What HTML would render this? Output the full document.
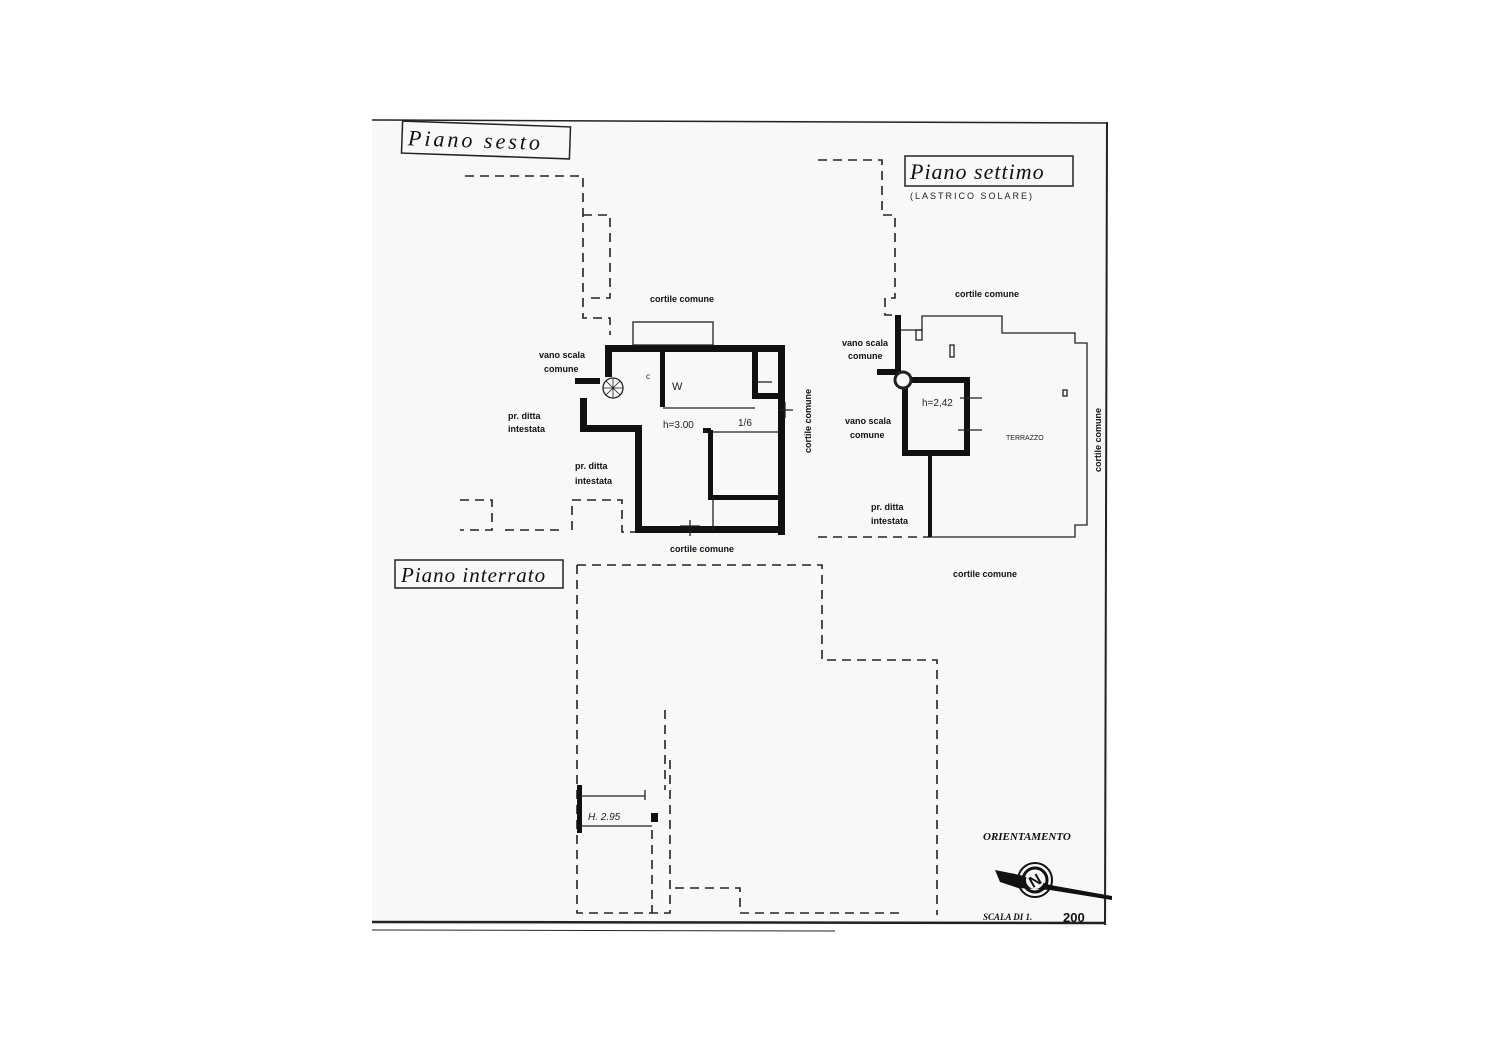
<!DOCTYPE html>
<html><head><meta charset="utf-8"><style>
html,body{margin:0;padding:0;background:#fff;}
svg{display:block}
text{font-family:"Liberation Serif",serif;}
.lbl{font-family:"Liberation Sans",sans-serif;font-weight:bold;font-size:9px;fill:#111}
.s{font-family:"Liberation Sans",sans-serif;}
</style></head><body>
<svg width="1485" height="1050" viewBox="0 0 1485 1050" xmlns="http://www.w3.org/2000/svg">
<rect x="372" y="120" width="736" height="805" fill="#f8f8f7"/>
<g stroke="#222" fill="none">
<line x1="372" y1="120" x2="1108" y2="123" stroke-width="1.5"/>
<line x1="1107" y1="122" x2="1105" y2="925" stroke-width="2"/>
<line x1="372" y1="922" x2="1105" y2="923" stroke-width="2.5"/>
<line x1="372" y1="930" x2="835" y2="931" stroke-width="1"/>
</g>
<g transform="rotate(2 486 140)">
<rect x="402" y="124" width="168" height="32" fill="none" stroke="#222" stroke-width="1.5"/>
<text x="408" y="148" font-size="22" font-style="italic" letter-spacing="3" fill="#111">Piano sesto</text>
</g>
<rect x="905" y="156" width="168" height="30" fill="none" stroke="#222" stroke-width="1.5"/>
<text x="910" y="179" font-size="22" font-style="italic" letter-spacing="1" fill="#111">Piano settimo</text>
<text x="910" y="199" font-size="9" class="s" letter-spacing="2" fill="#222">(LASTRICO  SOLARE)</text>
<rect x="395" y="560" width="168" height="28" fill="none" stroke="#222" stroke-width="1.5"/>
<text x="401" y="582" font-size="21" font-style="italic" letter-spacing="1" fill="#111">Piano interrato</text>

<g stroke="#222" stroke-width="1.6" fill="none" stroke-dasharray="9,6">
<path d="M465 176 H583 V318 H610 V335"/>
<path d="M583 215 H610 V298 H590"/>
<path d="M460 500 H492 V530 H460"/>
<path d="M505 530 H560"/>
<path d="M572 530 V500 H622 V532 H637"/>
<path d="M818 160 H882 V215 H895 V298 H885 V315 H898"/>
<path d="M818 537 H930"/>
<path d="M577 565 H822 V660 H937 V915"/>
<path d="M577 565 V913 H670 V760"/>
<path d="M652 830 V913"/>
<path d="M665 710 V790"/>
<path d="M675 888 H740 V913 H900"/>
</g>

<g fill="#111">
<rect x="605" y="345" width="180" height="7"/>
<rect x="778" y="345" width="7" height="190"/>
<rect x="635" y="526" width="150" height="7"/>
<rect x="635" y="425" width="7" height="108"/>
<rect x="580" y="425" width="60" height="7"/>
<rect x="580" y="398" width="7" height="34"/>
<rect x="575" y="378" width="25" height="6"/>
<rect x="605" y="345" width="7" height="32"/>
<rect x="660" y="345" width="5" height="62"/>
<rect x="752" y="345" width="6" height="50"/>
<rect x="752" y="393" width="33" height="6"/>
<rect x="708" y="430" width="5" height="70"/>
<rect x="708" y="495" width="70" height="5"/>
<rect x="703" y="428" width="8" height="5"/>
</g>
<g stroke="#222" fill="none" stroke-width="1.3">
<rect x="633" y="322" width="80" height="23"/>
<line x1="663" y1="408" x2="755" y2="408"/>
<line x1="713" y1="432" x2="778" y2="432"/>
<line x1="713" y1="497" x2="713" y2="530"/>
<circle cx="613" cy="388" r="10"/>
<path d="M603 388 H623 M613 378 V398 M606 381 L620 395 M620 381 L606 395" stroke-width="0.8"/>
<line x1="690" y1="520" x2="690" y2="536"/><line x1="680" y1="526" x2="700" y2="526"/>
<line x1="780" y1="410" x2="793" y2="410"/><line x1="785" y1="402" x2="785" y2="418"/>
<line x1="756" y1="382" x2="772" y2="382"/>
</g>
<text x="663" y="428" font-size="10" class="s" fill="#222">h=3.00</text>
<text x="738" y="426" font-size="10" class="s" fill="#222">1/6</text>
<text x="672" y="390" font-size="11" class="s" fill="#222">W</text>
<text x="646" y="379" font-size="8" class="s" fill="#222">c</text>

<g fill="#111">
<rect x="895" y="315" width="6" height="60"/>
<rect x="877" y="369" width="24" height="6"/>
<rect x="902" y="377" width="6" height="78"/>
<rect x="902" y="450" width="68" height="6"/>
<rect x="964" y="377" width="6" height="78"/>
<rect x="905" y="377" width="65" height="6"/>
<rect x="928" y="455" width="4" height="82"/>
</g>
<g stroke="#222" fill="none" stroke-width="1.3">
<circle cx="903" cy="380" r="8" fill="#f8f8f7" stroke-width="3"/>
<path d="M901 330 H922 V316 H1002 V333 H1075 V343 H1087 V525 H1075 V537 H930"/>
<rect x="916" y="330" width="6" height="10"/>
<rect x="950" y="345" width="4" height="12"/>
<rect x="1063" y="390" width="4" height="6"/>
<line x1="960" y1="398" x2="982" y2="398"/>
<line x1="958" y1="430" x2="982" y2="430"/>
</g>
<text x="922" y="406" font-size="10" class="s" fill="#222">h=2,42</text>
<text x="1006" y="440" font-size="7" class="s" fill="#222">TERRAZZO</text>

<g fill="#111"><rect x="577" y="785" width="5" height="48"/><rect x="651" y="813" width="7" height="9"/></g>
<g stroke="#222" stroke-width="1.3" fill="none">
<line x1="580" y1="796" x2="645" y2="796"/><line x1="645" y1="790" x2="645" y2="800"/>
<line x1="580" y1="826" x2="652" y2="826"/>
</g>
<text x="588" y="820" font-size="10" font-style="italic" class="s" fill="#222">H. 2.95</text>

<text class="lbl" x="650" y="302">cortile comune</text>
<text class="lbl" x="539" y="358">vano scala</text>
<text class="lbl" x="544" y="372">comune</text>
<text class="lbl" x="508" y="419">pr. ditta</text>
<text class="lbl" x="508" y="432">intestata</text>
<text class="lbl" x="575" y="469">pr. ditta</text>
<text class="lbl" x="575" y="484">intestata</text>
<text class="lbl" x="670" y="552">cortile comune</text>
<text class="lbl" transform="translate(811 453) rotate(-90)">cortile comune</text>
<text class="lbl" x="955" y="297">cortile comune</text>
<text class="lbl" x="842" y="346">vano scala</text>
<text class="lbl" x="848" y="359">comune</text>
<text class="lbl" x="845" y="424">vano scala</text>
<text class="lbl" x="850" y="438">comune</text>
<text class="lbl" x="871" y="510">pr. ditta</text>
<text class="lbl" x="871" y="524">intestata</text>
<text class="lbl" x="953" y="577">cortile comune</text>
<text class="lbl" transform="translate(1101 472) rotate(-90)">cortile comune</text>

<text x="983" y="840" font-size="11" font-weight="bold" font-style="italic" fill="#111">ORIENTAMENTO</text>
<circle cx="1035" cy="880" r="17" fill="#f8f8f7" stroke="#111" stroke-width="2"/>
<circle cx="1035" cy="880" r="12" fill="none" stroke="#111" stroke-width="3"/>
<polygon points="995,870 1020,875 1050,885 1112,896 1112,900 1050,890 1018,888 1000,882" fill="#111"/>
<circle cx="1035" cy="880" r="9" fill="#f8f8f7"/>
<text x="1029" y="886" font-size="16" font-weight="bold" class="s" fill="#111" transform="rotate(-30 1035 880)">N</text>
<text x="983" y="920" font-size="9" font-weight="bold" font-style="italic" fill="#111">SCALA DI 1.</text>
<text x="1063" y="922" font-size="13" font-weight="bold" class="s" fill="#111">200</text>
</svg>
</body></html>
